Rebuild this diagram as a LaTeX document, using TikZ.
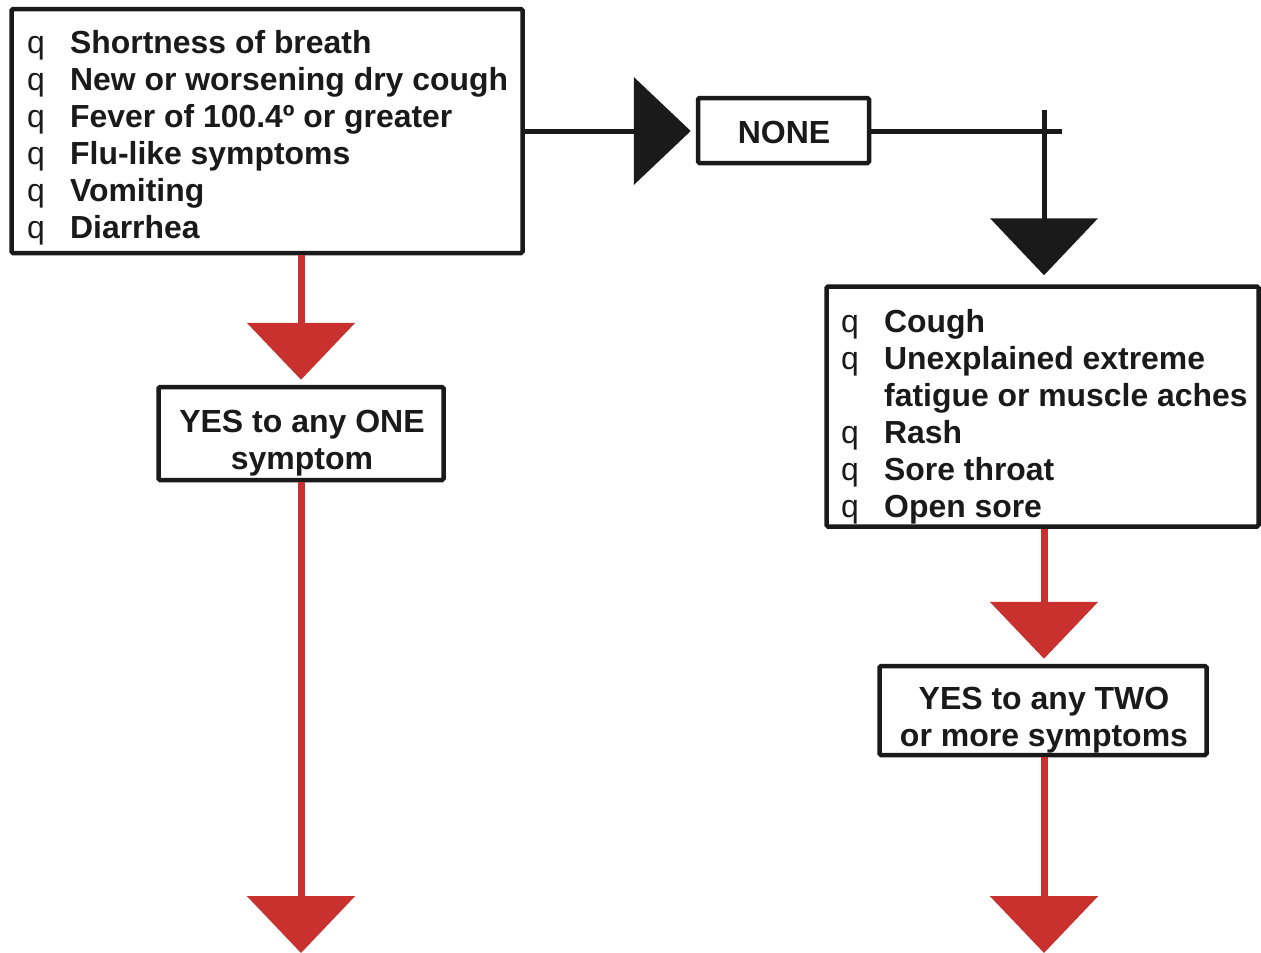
\documentclass[tikz,border=0pt]{standalone}
\usepackage{fontspec}
\setmainfont{Liberation Sans}
\usetikzlibrary{arrows.meta}
\definecolor{ink}{HTML}{1A1A1A}
\definecolor{redline}{HTML}{C8312D}
\newcommand\qitem[1]{\makebox[43pt][l]{q}\textbf{#1}}
\newcommand\qcont[1]{\makebox[43pt][l]{}\textbf{#1}}
\newcommand\twolines[2]{\begin{tabular}[t]{@{}c@{}}#1\\#2\end{tabular}}
\tikzset{
  box/.style={draw=ink, line width=4.5pt, rounded corners=1.5pt, fill=white, inner sep=0pt},
  listtext/.style={inner sep=0pt, text=ink, font=\fontsize{31.9}{37}\selectfont},
  label/.style={inner sep=0pt, text=ink, font=\fontsize{32}{37}\selectfont\bfseries},
  blackcon/.style={draw=ink, line width=5pt},
  redcon/.style={draw=redline, line width=7pt},
  bigtip/.style={-{Triangle[length=57pt,width=107pt]}},
}
\begin{document}
\begin{tikzpicture}[x=1pt,y=-1pt]
\useasboundingbox (0,0) rectangle (1261,953);
% boxes
\node[box, minimum width=511pt, minimum height=244pt] (b1) at (267,131) {};
\node[listtext, anchor=base west] (l1) at (27,53) {\begin{tabular}[t]{@{}l@{}}
\qitem{Shortness of breath}\\
\qitem{New or worsening dry cough}\\
\qitem{Fever of 100.4º or greater}\\
\qitem{Flu-like symptoms}\\
\qitem{Vomiting}\\
\qitem{Diarrhea}
\end{tabular}};
\node[box, minimum width=171pt, minimum height=65pt] (none) at (783.5,130.5) {};
\node[label, anchor=base] (nonet) at (784,143) {NONE};
\node[box, minimum width=432pt, minimum height=240pt] (b3) at (1042.5,406.5) {};
\node[listtext, anchor=base west] (l3) at (841,332) {\begin{tabular}[t]{@{}l@{}}
\qitem{Cough}\\
\qitem{Unexplained extreme}\\
\qcont{fatigue or muscle aches}\\
\qitem{Rash}\\
\qitem{Sore throat}\\
\qitem{Open sore}
\end{tabular}};
\node[box, minimum width=285pt, minimum height=93pt] (yes1) at (301,433.5) {};
\node[label, anchor=base] (yes1t) at (302,432) {\twolines{YES to any ONE}{symptom}};
\node[box, minimum width=327pt, minimum height=89pt] (yes2) at (1043,710.5) {};
\node[label, anchor=base] (yes2t) at (1044,709) {\twolines{YES to any TWO}{or more symptoms}};
% coordinates
\coordinate (tick) at (1044,110);
\coordinate (hend) at (1062,131);
\coordinate (end1) at (301,953);
\coordinate (end2) at (1044,953);
% black connectors
\draw[blackcon, bigtip, shorten >=5pt] (b1.east |- 0,131) -- (none.west |- 0,131);
\draw[blackcon] (none.east |- hend) -- (hend);
\draw[blackcon, bigtip, shorten >=9pt] (tick) -- (tick |- b3.north);
% red connectors
\draw[redcon, bigtip, shorten >=5pt] (yes1 |- b1.south) -- (yes1.north);
\draw[redcon, bigtip] (yes1.south) -- (end1);
\draw[redcon, bigtip, shorten >=5pt] (end2 |- b3.south) -- (end2 |- yes2.north);
\draw[redcon, bigtip] (end2 |- yes2.south) -- (end2);
\end{tikzpicture}
\end{document}
